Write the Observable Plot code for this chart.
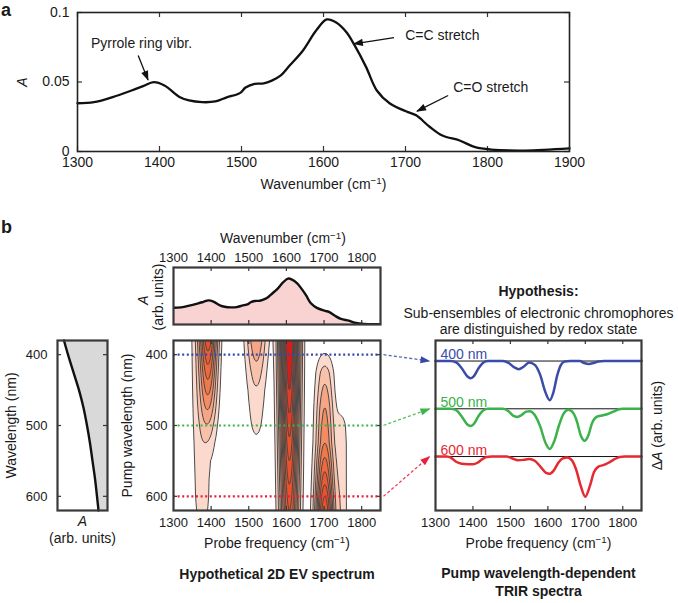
<!DOCTYPE html>
<html><head><meta charset="utf-8">
<script src="https://cdn.jsdelivr.net/npm/d3@7"></script>
<script src="https://cdn.jsdelivr.net/npm/@observablehq/plot@0.6"></script>
<style>
body{margin:0;background:#fff;}
#fig{position:relative;width:678px;height:603px;overflow:hidden;background:#fff;font-family:"Liberation Sans",Arial,Helvetica,sans-serif;color:#1a1a1a}
.plbl{position:absolute;font-weight:bold;font-size:18px;line-height:18px;}
</style></head><body><div id="fig"></div>
<script>
// ---------------- data ----------------
// Panel a: FTIR absorbance spectrum
const wavenumber = [1300,1320,1342,1366,1380,1393,1406,1425,1436,1452,1468,1482,1498,1505,1516,1527,1537,1548,1559,1575,1591,1604,1615,1628,1638,1652,1665,1681,1703,1713,1729,1745,1766,1785,1804,1846,1900];
const absorbance = [0.0347,0.0355,0.039,0.0439,0.047,0.0499,0.0475,0.039,0.0367,0.0355,0.036,0.039,0.042,0.046,0.0487,0.049,0.051,0.0547,0.062,0.0727,0.087,0.095,0.093,0.0858,0.0763,0.0607,0.0439,0.0345,0.0283,0.026,0.018,0.0115,0.0079,0.0031,0.0014,0.0007,0.0022];
const xTicksA = [1300,1400,1500,1600,1700,1800,1900];
const yTicksA = [0,0.05,0.1];
// annotations (text centre and arrow, in data units)
const annLabels = ["Pyrrole ring vibr.","C=C stretch","C=O stretch"];
const annTextX = [1378,1745,1804];
const annTextY = [0.0777,0.0835,0.046];
const annFromX = [1374,1686,1752];
const annFromY = [0.069,0.082,0.0403];
const annToX = [1386,1637,1714];
const annToY = [0.0515,0.0775,0.029];

// Panel b: electronic absorption vs wavelength
const wavelength = [380,400,425,450,475,500,525,550,575,600,620];
const wavelengthAbs = [0.13,0.21,0.32,0.43,0.52,0.59,0.65,0.70,0.75,0.79,0.82];
const pumpTicks = [400,500,600];
const probeTicks = [1300,1400,1500,1600,1700,1800];
const innerProbeTicks = [1400,1500,1600,1700,1800];

// Hypothetical 2D EV spectrum: peak centres / widths (cm-1) and amplitude vs pump wavelength
const pumpGrid = [380,400,425,450,475,500,525,550,575,600,620];
const peakCenter = [1393,1376,1520,1608,1702,1748];
const peakWidth = [17,24,20,17.5,17.5,12];
const amp1393 = [1.55,1.32,1.07,0.84,0.6,0.35,0.15,0.02,0,0,0];
const amp1376 = [0.28,0.28,0.28,0.28,0.28,0.28,0.28,0.28,0.27,0.26,0.24];
const amp1520 = [0.79,0.66,0.5,0.37,0.3,0.24,0.16,0.08,0.02,0,0];
const amp1608 = [3.0,2.9,2.75,2.6,2.45,2.3,2.15,2.0,1.85,1.7,1.6];
const amp1702 = [0,0.22,0.5,0.65,0.8,0.9,1.0,1.25,1.5,1.8,2.0];
const amp1748 = [0,0,0,0,0.1,0.25,0.3,0.3,0.3,0.3,0.3];
const contourLevels = [0.2,0.4,0.6,0.8,1.0,1.2,1.4,1.6,1.8,2.0,2.2,2.4,2.6];
const colorBreaks = [0.3,0.5,0.7,0.9,1.1,1.3,1.5,2.1,2.5];
const contourColors = ["#fcd9cd","#f9c1a9","#f7a584","#f58b62","#f37848","#f2683a","#f05a30","#ef5028","#ea3a22","#d81c18"];
const pumpLines = [400,500,600];
const pumpColors = ["#3848a8","#3cb44a","#e8203a"];

// TRIR spectra (delta A, arbitrary units, baseline 0)
const trirLabels = ["400 nm","500 nm","600 nm"];
const trirColors = ["#3a4ca8","#3bb24a","#e62a32"];
const probe400 = [1300,1340,1355,1370,1385,1393,1402,1415,1428,1440,1480,1495,1510,1522,1535,1550,1565,1580,1592,1605,1615,1625,1635,1645,1660,1685,1697,1710,1722,1735,1750,1850];
const dA400 = [0,0,-0.03,-0.15,-0.32,-0.36,-0.32,-0.15,-0.03,0,0,-0.04,-0.13,-0.17,-0.12,-0.03,-0.08,-0.3,-0.62,-0.82,-0.65,-0.3,-0.08,-0.01,0,0,-0.04,-0.06,-0.04,-0.01,0,0];
const probe500 = [1300,1340,1355,1370,1385,1393,1402,1415,1428,1440,1480,1495,1508,1518,1530,1542,1552,1565,1580,1593,1605,1617,1630,1642,1655,1665,1677,1688,1698,1708,1718,1730,1745,1760,1775,1790,1800,1850];
const dA500 = [0,0,-0.03,-0.16,-0.33,-0.36,-0.32,-0.15,-0.03,0,0,-0.05,-0.15,-0.17,-0.13,-0.06,-0.05,-0.13,-0.38,-0.7,-0.84,-0.68,-0.34,-0.1,-0.02,-0.06,-0.25,-0.56,-0.67,-0.56,-0.3,-0.17,-0.14,-0.11,-0.06,-0.01,0,0];
const probe600 = [1300,1330,1342,1355,1370,1385,1400,1412,1424,1436,1450,1490,1505,1520,1535,1550,1565,1580,1595,1605,1615,1628,1640,1652,1663,1675,1688,1700,1712,1723,1735,1748,1762,1777,1792,1805,1850];
const dA600 = [0,0,-0.03,-0.11,-0.15,-0.16,-0.16,-0.13,-0.06,-0.01,0,0,-0.04,-0.08,-0.07,-0.05,-0.09,-0.21,-0.34,-0.36,-0.3,-0.13,-0.04,-0.02,-0.07,-0.26,-0.62,-0.84,-0.62,-0.33,-0.21,-0.18,-0.13,-0.06,-0.01,0,0];

// ---------------- helpers ----------------
const FONT = '"Liberation Sans", Arial, Helvetica, sans-serif';
const NS = "http://www.w3.org/2000/svg";
const fig = document.getElementById("fig");
const css = fs => ({background: "none", overflow: "visible", fontFamily: FONT, fontSize: fs + "px", color: "#1a1a1a"});
const fmt = d => String(d);
function put(node, left, top) {
  node.style.position = "absolute"; node.style.left = left + "px"; node.style.top = top + "px";
  fig.appendChild(node); return node;
}
function edgeTicksX(vals, innerH, len = 5) {
  return [
    Plot.tickX(vals, {x: d => d, insetTop: innerH - len, stroke: "#333", strokeWidth: 1.2}),
    Plot.tickX(vals, {x: d => d, insetBottom: innerH - len, stroke: "#333", strokeWidth: 1.2})
  ];
}
function edgeTicksY(vals, innerW, len = 5) {
  return [
    Plot.tickY(vals, {y: d => d, insetRight: innerW - len, stroke: "#333", strokeWidth: 1.2}),
    Plot.tickY(vals, {y: d => d, insetLeft: innerW - len, stroke: "#333", strokeWidth: 1.2})
  ];
}
const label = (s, o) => Plot.text([s], {text: d => d, textAnchor: "middle", ...o});
function richText(svg) {
  svg.querySelectorAll("text").forEach(t => {
    const s = t.textContent;
    if (t.children.length) return;
    if (s.endsWith("(cm\u207B\u00B9)")) {
      t.textContent = s.replace("(cm\u207B\u00B9)", "(cm");
      const sup = document.createElementNS(NS, "tspan");
      sup.setAttribute("font-size", "0.7em"); sup.setAttribute("dy", "-0.45em");
      sup.textContent = "\u22121";
      const cl = document.createElementNS(NS, "tspan");
      cl.setAttribute("dy", "0.315em"); cl.textContent = ")";
      t.append(sup, cl);
    } else if (s.startsWith("\u0394A")) {
      t.textContent = "\u0394";
      const it = document.createElementNS(NS, "tspan");
      it.setAttribute("font-style", "italic"); it.textContent = "A";
      t.append(it, document.createTextNode(s.slice(2)));
    }
  });
}
function fillMarkers(svg) {
  svg.querySelectorAll("marker").forEach(m => {
    const c = m.getAttribute("stroke") || "#111";
    m.setAttribute("markerUnits", "userSpaceOnUse");
    m.setAttribute("viewBox", "-10 -5 12 10");
    m.setAttribute("markerWidth", 12); m.setAttribute("markerHeight", 10);
    m.setAttribute("fill", c); m.setAttribute("stroke", "none");
    const p = m.querySelector("path");
    if (p) p.setAttribute("d", "M-9,-3.6L1,0L-9,3.6Z");
  });
}

// ---------------- panel a ----------------
const spec = wavenumber.map((w, i) => ({w, a: absorbance[i]}));
const ann = annLabels.map((t, i) => ({t, tx: annTextX[i], ty: annTextY[i], x1: annFromX[i], y1: annFromY[i], x2: annToX[i], y2: annToY[i]}));
const A = {w: 678, h: 200, l: 77, r: 109, t: 12, b: 49};
const plotA = Plot.plot({
  width: A.w, height: A.h, marginLeft: A.l, marginRight: A.r, marginTop: A.t, marginBottom: A.b,
  style: css(14),
  x: {domain: [1300, 1900]}, y: {domain: [0, 0.1]},
  marks: [
    ...edgeTicksX(xTicksA, A.h - A.t - A.b),
    ...edgeTicksY(yTicksA, A.w - A.l - A.r),
    Plot.line(spec, {x: "w", y: "a", curve: "catmull-rom", stroke: "#111", strokeWidth: 2.3}),
    Plot.link(ann, {x1: "x1", y1: "y1", x2: "x2", y2: "y2", stroke: "#111", strokeWidth: 1.3, markerEnd: "arrow"}),
    Plot.text(ann, {x: "tx", y: "ty", text: "t", fontSize: 14}),
    Plot.frame({stroke: "#222", strokeWidth: 1.6}),
    Plot.axisX({ticks: xTicksA, tickSize: 0, tickPadding: 6, tickFormat: fmt, label: null, fontSize: 14}),
    Plot.axisY({ticks: yTicksA, tickSize: 0, tickPadding: 8, tickFormat: fmt, label: null, fontSize: 14}),
    label("Wavenumber (cm\u207B\u00B9)", {frameAnchor: "bottom", dy: 37, fontSize: 14}),
    label("A", {frameAnchor: "left", dx: -55, rotate: -90, fontStyle: "italic", fontSize: 14})
  ]
});
richText(plotA); fillMarkers(plotA);
put(plotA, 0, 0);

// ---------------- panel b: mini absorbance ----------------
const M = {w: 430, h: 130, l: 173, r: 50, t: 67, b: 6};
const plotM = Plot.plot({
  width: M.w, height: M.h, marginLeft: M.l, marginRight: M.r, marginTop: M.t, marginBottom: M.b,
  style: css(13),
  x: {domain: [1300, 1850]}, y: {domain: [0, 0.118], axis: null},
  marks: [
    Plot.areaY(spec, {x: "w", y: "a", fill: "#f9d2d2", curve: "catmull-rom", clip: true}),
    Plot.line(spec, {x: "w", y: "a", curve: "catmull-rom", stroke: "#111", strokeWidth: 2.4, clip: true}),
    ...edgeTicksX(innerProbeTicks, M.h - M.t - M.b, 4),
    Plot.frame({stroke: "#3a3a3a", strokeWidth: 2.2}),
    Plot.axisX({anchor: "top", ticks: probeTicks, tickSize: 0, tickPadding: 6, tickFormat: fmt, label: null, fontSize: 13}),
    label("Wavenumber (cm\u207B\u00B9)", {frameAnchor: "top", dy: -34, dx: 6, fontSize: 14}),
    label("A", {frameAnchor: "left", dx: -30, dy: 4, rotate: -90, fontStyle: "italic", fontSize: 14}),
    label("(arb. units)", {frameAnchor: "left", dx: -15, dy: 1, rotate: -90, fontSize: 14})
  ]
});
richText(plotM);
put(plotM, 0, 200);

// ---------------- panel b: wavelength absorbance ----------------
const leftData = wavelength.map((wl, i) => ({wl, a: wavelengthAbs[i]}));
const Lp = {w: 130, h: 230, l: 57, r: 23, t: 10, b: 50};
const plotL = Plot.plot({
  width: Lp.w, height: Lp.h, marginLeft: Lp.l, marginRight: Lp.r, marginTop: Lp.t, marginBottom: Lp.b,
  style: css(13),
  x: {domain: [0, 1], axis: null}, y: {domain: [380, 620], reverse: true},
  marks: [
    Plot.areaX(leftData, {y: "wl", x1: "a", x2: 1, fill: "#d9d9d9", curve: "catmull-rom"}),
    Plot.line(leftData, {x: "a", y: "wl", stroke: "#111", strokeWidth: 2.4, curve: "catmull-rom"}),
    ...edgeTicksY(pumpTicks, Lp.w - Lp.l - Lp.r, 4),
    Plot.frame({stroke: "#3a3a3a", strokeWidth: 2.2}),
    Plot.axisY({ticks: pumpTicks, tickSize: 0, tickPadding: 10, tickFormat: fmt, label: null, fontSize: 13}),
    label("Wavelength (nm)", {frameAnchor: "left", dx: -46, rotate: -90, fontSize: 14}),
    label("A", {frameAnchor: "bottom", dy: 15, fontStyle: "italic", fontSize: 14}),
    label("(arb. units)", {frameAnchor: "bottom", dy: 32, fontSize: 14})
  ]
});
put(plotL, 0, 330);

// ---------------- panel b: 2D EV contour ----------------
const ampScales = [amp1393, amp1376, amp1520, amp1608, amp1702, amp1748]
  .map(a => d3.scaleLinear().domain(pumpGrid).range(a).clamp(true));
function field(probe, pump) {
  let v = 0;
  for (let k = 0; k < peakCenter.length; k++) {
    const d = probe - peakCenter[k];
    v += ampScales[k](pump) * Math.exp(-d * d / (2 * peakWidth[k] * peakWidth[k]));
  }
  return v;
}
const C = {w: 290, h: 270, l: 63, r: 20, t: 10, b: 90, left: 110, top: 330};
const plot2D = Plot.plot({
  width: C.w, height: C.h, marginLeft: C.l, marginRight: C.r, marginTop: C.t, marginBottom: C.b,
  style: css(13),
  x: {domain: [1300, 1850]}, y: {domain: [380, 620], reverse: true},
  color: {type: "threshold", domain: colorBreaks, range: contourColors},
  marks: [
    Plot.contour({fill: field, x1: 1300, x2: 1850, y1: 380, y2: 620, thresholds: contourLevels, stroke: "#4a4a4a", strokeWidth: 1.0, pixelSize: 1}),
    ...edgeTicksX(innerProbeTicks, C.h - C.t - C.b, 4),
    ...edgeTicksY(pumpTicks, C.w - C.l - C.r, 4),
    ...pumpLines.map((p, i) => Plot.ruleY([p], {y: d => d, stroke: pumpColors[i], strokeWidth: 2.2, strokeDasharray: "2,2.6"})),
    Plot.frame({stroke: "#3a3a3a", strokeWidth: 2.2}),
    Plot.axisX({ticks: probeTicks, tickSize: 0, tickPadding: 7, tickFormat: fmt, label: null, fontSize: 13}),
    Plot.axisY({ticks: pumpTicks, tickSize: 0, tickPadding: 6, tickFormat: fmt, label: null, fontSize: 13}),
    label("Pump wavelength (nm)", {frameAnchor: "left", dx: -46, rotate: -90, fontSize: 14}),
    label("Probe frequency (cm\u207B\u00B9)", {frameAnchor: "bottom", dy: 37, fontSize: 14}),
    label("Hypothetical 2D EV spectrum", {frameAnchor: "bottom", dy: 68, fontSize: 14, fontWeight: "bold"})
  ]
});
richText(plot2D);
put(plot2D, C.left, C.top);

// ---------------- panel b: TRIR ----------------
const traces = [[probe400, dA400], [probe500, dA500], [probe600, dA600]]
  .map(([px, py], i) => px.map((x, j) => ({x, y: py[j] - i})));
const T = {w: 288, h: 330, l: 45, r: 37, t: 70, b: 90, left: 390, top: 270};
const plotT = Plot.plot({
  width: T.w, height: T.h, marginLeft: T.l, marginRight: T.r, marginTop: T.t, marginBottom: T.b,
  style: css(13),
  x: {domain: [1300, 1850]}, y: {domain: [-3.13, 0.43], axis: null},
  marks: [
    ...edgeTicksX(innerProbeTicks, T.h - T.t - T.b, 4),
    Plot.ruleY([0, -1, -2], {y: d => d, stroke: "#111", strokeWidth: 1}),
    ...traces.map((tr, i) => Plot.line(tr, {x: "x", y: "y", stroke: trirColors[i], strokeWidth: 2.5, curve: "monotone-x"})),
    ...trirLabels.map((s, i) => Plot.text([s], {text: d => d, x: 1300, y: -i, dx: 5, dy: -2, textAnchor: "start", lineAnchor: "bottom", fill: trirColors[i], fontSize: 14})),
    Plot.frame({stroke: "#3a3a3a", strokeWidth: 2.2}),
    Plot.axisX({ticks: probeTicks, tickSize: 0, tickPadding: 7, tickFormat: fmt, label: null, fontSize: 13}),
    label("\u0394A (arb. units)", {frameAnchor: "right", dx: 16, rotate: -90, fontSize: 14}),
    label("Probe frequency (cm\u207B\u00B9)", {frameAnchor: "bottom", dy: 37, fontSize: 14}),
    label("Pump wavelength-dependent", {frameAnchor: "bottom", dy: 67, fontSize: 14, fontWeight: "bold"}),
    label("TRIR spectra", {frameAnchor: "bottom", dy: 85, fontSize: 14, fontWeight: "bold"}),
    label("Hypothesis:", {frameAnchor: "top", dy: -54, fontSize: 14, fontWeight: "bold"}),
    label("Sub-ensembles of electronic chromophores", {frameAnchor: "top", dy: -32, fontSize: 14}),
    label("are distinguished by redox state", {frameAnchor: "top", dy: -16, fontSize: 14})
  ]
});
richText(plotT);
put(plotT, T.left, T.top);

// ---------------- connecting arrows ----------------
const sx2 = plot2D.scale("x"), sy2 = plot2D.scale("y"), sxT = plotT.scale("x"), syT = plotT.scale("y");
const arrowData = pumpLines.map((p, i) => ({
  x1: C.left + sx2.apply(1850) + 3, y1: C.top + sy2.apply(p),
  x2: T.left + sxT.apply(1300) - 6, y2: T.top + syT.apply(-i)
}));
const overlay = Plot.plot({
  width: 678, height: 603, margin: 0, style: css(12),
  x: {domain: [0, 678], range: [0, 678], axis: null},
  y: {domain: [0, 603], range: [0, 603], axis: null},
  marks: arrowData.map((d, i) => Plot.link([d], {x1: "x1", y1: "y1", x2: "x2", y2: "y2", stroke: pumpColors[i], strokeOpacity: 0.85, strokeWidth: 1.3, strokeDasharray: "3,2.2", markerEnd: "arrow"}))
});
fillMarkers(overlay);
overlay.style.pointerEvents = "none";
put(overlay, 0, 0);

// panel letters
const la = document.createElement("div"); la.className = "plbl"; la.textContent = "a"; put(la, 1, 1);
const lb = document.createElement("div"); lb.className = "plbl"; lb.textContent = "b"; put(lb, 1, 218);
</script>
</body></html>
